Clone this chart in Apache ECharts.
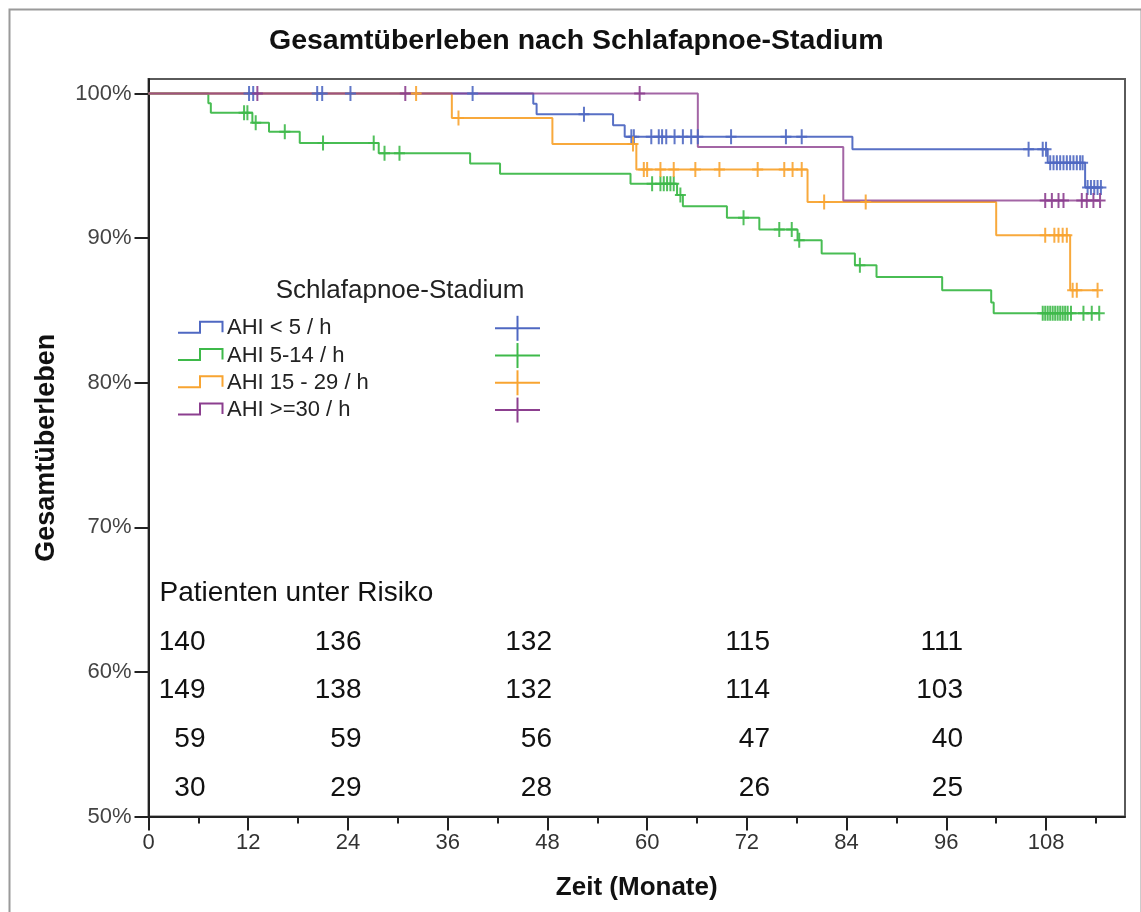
<!DOCTYPE html>
<html>
<head>
<meta charset="utf-8">
<script src="https://cdn.jsdelivr.net/npm/echarts@6/dist/echarts.min.js"></script>
<style>
  html, body { margin: 0; padding: 0; background: #fff; }
  #chart { width: 1141px; height: 912px; }
</style>
</head>
<body>
<div id="chart"></div>
<script>
// ---------------- DATA ----------------
const groupNames = ['AHI < 5 / h', 'AHI 5-14 / h', 'AHI 15 - 29 / h', 'AHI >=30 / h'];

// AHI < 5 / h
const blueEventTimes = [46.3, 46.7, 55.9, 57.3, 84.7, 108.2, 112.7];
const blueEventSurv  = [99.29, 98.57, 97.8, 97.0, 96.15, 95.2, 93.5];
const blueCensorTimes = [12.1, 12.6, 20.3, 20.9, 24.3, 39.0, 52.4, 58.1, 58.4, 60.5, 61.4, 61.8, 62.3,
  63.3, 64.3, 65.3, 66.1, 70.1, 76.7, 78.6, 105.9, 107.6, 108.0, 108.5, 108.9, 109.3, 109.7, 110.1,
  110.5, 110.9, 111.3, 111.7, 112.1, 112.4, 113.0, 113.4, 113.8, 114.2, 114.6];

// AHI 5-14 / h
const greenEventTimes = [7.2, 7.5, 12.5, 14.5, 18.2, 27.7, 38.7, 42.3, 58.0, 63.6, 64.3, 69.6, 73.5,
  78.1, 81.0, 85.0, 87.6, 95.5, 101.4, 101.7];
const greenEventSurv  = [99.33, 98.66, 97.98, 97.35, 96.57, 95.87, 95.15, 94.45, 93.75, 92.98, 92.2,
  91.4, 90.6, 89.85, 88.93, 88.12, 87.31, 86.4, 85.55, 84.8];
const greenCensorTimes = [11.5, 11.9, 12.9, 16.4, 21.0, 27.1, 28.4, 30.2, 60.6, 61.6, 62.0, 62.4,
  62.8, 63.2, 64.0, 71.6, 75.9, 77.4, 78.3, 85.6, 107.6, 107.9, 108.2, 108.5, 108.8, 109.1, 109.4,
  109.7, 110.0, 110.3, 110.6, 111.0, 112.5, 113.5, 114.4];

// AHI 15 - 29 / h
const orangeEventTimes = [36.5, 48.6, 58.7, 79.3, 102.0, 110.9];
const orangeEventSurv  = [98.3, 96.5, 94.75, 92.5, 90.2, 86.4];
const orangeCensorTimes = [32.2, 37.3, 58.3, 59.6, 60.0, 61.6, 63.2, 65.8, 68.7, 73.3, 76.5, 77.5,
  78.6, 81.3, 86.3, 107.9, 109.0, 109.5, 110.0, 110.5, 111.2, 111.7, 114.2];

// AHI >=30 / h
const purpleEventTimes = [66.1, 83.6];
const purpleEventSurv  = [96.3, 92.6];
const purpleCensorTimes = [13.1, 30.9, 59.1, 107.9, 108.7, 109.5, 110.1, 112.3, 112.9, 113.7, 114.5];

// Axis ticks
const xTickValues = [0, 12, 24, 36, 48, 60, 72, 84, 96, 108];
const xMinorTickValues = [6, 18, 30, 42, 54, 66, 78, 90, 102, 114];
const yTickValues = [50, 60, 70, 80, 90, 100];

// Patients at risk (months 0, 24, 48, 72, 96)
const riskTitle = 'Patienten unter Risiko';
const riskBlue   = [140, 136, 132, 115, 111];
const riskGreen  = [149, 138, 132, 114, 103];
const riskOrange = [59, 59, 56, 47, 40];
const riskPurple = [30, 29, 28, 26, 25];

// ---------------- STYLE / LAYOUT ----------------
const colors = ['#4f68c2', '#3eb94a', '#f8a431', '#8c3f8f'];
const FONT = '"Liberation Sans", Arial, Helvetica, sans-serif';
const gridBox = { left: 148.5, top: 79, right: 16, bottom: 95.5 };

function survAt(times, surv, t) {
  let s = 100;
  for (let i = 0; i < times.length; i++) if (times[i] <= t) s = surv[i];
  return s;
}
function stepData(times, surv, censors) {
  const d = [[0, 100]];
  for (let i = 0; i < times.length; i++) d.push([times[i], surv[i]]);
  const tEnd = Math.max(times[times.length - 1], Math.max.apply(null, censors));
  d.push([tEnd, survAt(times, surv, tEnd)]);
  return d;
}
function censorData(times, surv, censors) {
  return censors.map(t => [t, survAt(times, surv, t)]);
}

const groups = [
  [blueEventTimes, blueEventSurv, blueCensorTimes],
  [greenEventTimes, greenEventSurv, greenCensorTimes],
  [orangeEventTimes, orangeEventSurv, orangeCensorTimes],
  [purpleEventTimes, purpleEventSurv, purpleCensorTimes]
];
const riskRows = [riskBlue, riskGreen, riskOrange, riskPurple];

const plusPath = 'path://M0,6.5 L11,6.5 L11,8.5 L0,8.5 Z M4.5,0 L6.5,0 L6.5,15 L4.5,15 Z';

// draw order: green, blue, orange, purple (purple slightly transparent on top)
const drawOrder = [1, 0, 2, 3];
const series = [];
drawOrder.forEach((gi, k) => {
  const g = groups[gi];
  series.push({
    name: groupNames[gi],
    type: 'line',
    step: 'end',
    data: stepData(g[0], g[1], g[2]),
    showSymbol: false,
    symbol: 'none',
    silent: true,
    z: 2 + k,
    lineStyle: { color: colors[gi], width: 2, opacity: gi === 3 ? 0.8 : 0.95 },
    itemStyle: { color: colors[gi] },
    animation: false
  });
});
drawOrder.forEach((gi, k) => {
  const g = groups[gi];
  series.push({
    name: groupNames[gi] + ' zensiert',
    type: 'scatter',
    data: censorData(g[0], g[1], g[2]),
    symbol: plusPath,
    symbolSize: [11, 15],
    silent: true,
    z: 10 + k,
    itemStyle: { color: colors[gi], opacity: 0.9 },
    animation: false
  });
});

// ---------------- GRAPHICS: legend, risk table, border ----------------
const graphics = [];
// outer border
graphics.push({
  type: 'rect', left: 7, top: 7, silent: true,
  shape: { width: 1132, height: 910 },
  style: { fill: 'none', stroke: '#9a9a9a', lineWidth: 2 }
});
// legend title
graphics.push({
  type: 'text', x: 400, y: 291, silent: true,
  style: { text: 'Schlafapnoe-Stadium', font: '26px ' + FONT, fill: '#222',
           textAlign: 'center', textVerticalAlign: 'middle' }
});
for (let i = 0; i < 4; i++) {
  const y = 328.3 + i * 27.25;
  graphics.push({
    type: 'polyline', silent: true,
    shape: { points: [[178, y + 4.5], [200, y + 4.5], [200, y - 6.5], [222.5, y - 6.5], [222.5, y + 4]] },
    style: { stroke: colors[i], lineWidth: 2, fill: 'none' }
  });
  graphics.push({
    type: 'text', x: 227, y: y, silent: true,
    style: { text: groupNames[i], font: '22px ' + FONT, fill: '#222',
             textAlign: 'left', textVerticalAlign: 'middle' }
  });
  graphics.push({
    type: 'line', silent: true,
    shape: { x1: 495, y1: y, x2: 540, y2: y },
    style: { stroke: colors[i], lineWidth: 2 }
  });
  graphics.push({
    type: 'line', silent: true,
    shape: { x1: 517.5, y1: y - 12.5, x2: 517.5, y2: y + 12.5 },
    style: { stroke: colors[i], lineWidth: 2 }
  });
}
// risk table
graphics.push({
  type: 'text', x: 159.5, y: 593, silent: true,
  style: { text: riskTitle, font: '28px ' + FONT, fill: '#111',
           textAlign: 'left', textVerticalAlign: 'middle' }
});
const riskColRight = [205.5, 361.5, 552, 770, 963];
const riskRowY = [642.5, 690.5, 739.5, 788.5];
riskRows.forEach((row, r) => {
  row.forEach((v, c) => {
    graphics.push({
      type: 'text', x: riskColRight[c], y: riskRowY[r], silent: true,
      style: { text: String(v), font: '28px ' + FONT, fill: '#111',
               textAlign: 'right', textVerticalAlign: 'middle' }
    });
  });
});

// ---------------- CHART ----------------
const chart = echarts.init(document.getElementById('chart'), null, { renderer: 'canvas' });
chart.setOption({
  backgroundColor: '#ffffff',
  animation: false,
  title: {
    text: 'Gesamtüberleben nach Schlafapnoe-Stadium',
    left: 269, top: 27, padding: 0,
    textStyle: { fontFamily: FONT, fontSize: 28.5, fontWeight: 'bold', color: '#111' }
  },
  grid: {
    left: gridBox.left, top: gridBox.top, right: gridBox.right, bottom: gridBox.bottom,
    show: true, borderColor: '#5a5a5a', borderWidth: 2, backgroundColor: 'transparent'
  },
  xAxis: [{
    type: 'value', min: 0, max: 117.5, interval: 12,
    name: 'Zeit (Monate)', nameLocation: 'middle', nameGap: 58,
    nameTextStyle: { fontFamily: FONT, fontSize: 26, fontWeight: 'bold', color: '#111' },
    axisLine: { show: true, lineStyle: { color: '#222', width: 2 } },
    axisTick: { show: true, length: 14, lineStyle: { color: '#222', width: 2 }, customValues: xTickValues },
    axisLabel: { fontFamily: FONT, fontSize: 22, color: '#333', margin: 15, customValues: xTickValues },
    splitLine: { show: false }
  }, {
    type: 'value', min: 0, max: 117.5, position: 'bottom',
    axisLine: { show: false },
    axisTick: { show: true, length: 7, lineStyle: { color: '#222', width: 2 }, customValues: xMinorTickValues },
    axisLabel: { show: false },
    splitLine: { show: false }
  }],
  yAxis: {
    type: 'value', min: 50, max: 101, interval: 10,
    name: 'Gesamtüberleben', nameLocation: 'middle', nameGap: 88, nameRotate: 90,
    nameTextStyle: { fontFamily: FONT, fontSize: 27, fontWeight: 'bold', color: '#111' },
    axisLine: { show: true, lineStyle: { color: '#222', width: 2 } },
    axisTick: { show: true, length: 14, lineStyle: { color: '#222', width: 2 }, customValues: yTickValues },
    axisLabel: { fontFamily: FONT, fontSize: 22, color: '#444', margin: 17, customValues: yTickValues,
                 formatter: v => v + '%' },
    splitLine: { show: false }
  },
  graphic: graphics,
  series: series
});
</script>
</body>
</html>
